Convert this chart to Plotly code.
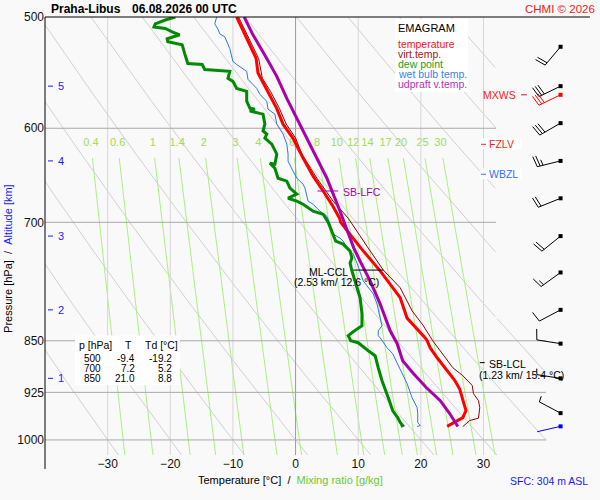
import numpy as np
import plotly.graph_objects as go

FONT = 'Liberation Sans, Arial, sans-serif'
BG = '#f9f9f9'

# figure geometry
W, H = 600, 500
ML, MR, MT, MB = 45, 10, 15, 45
X0, X1 = -40, 47
P_TOP, P_BOT = 500, 1025
SX = (W - ML - MR) / (X1 - X0)             # px per degC
SY = (H - MT - MB) / np.log(P_BOT / P_TOP)  # px per ln(p)

T_TICKS = [-30, -20, -10, 0, 10, 20, 30]
P_TICKS = [500, 600, 700, 850, 925, 1000]
ALT_KM = [1, 2, 3, 4, 5]
ALT_P = [904, 808, 716, 633, 560]

MIX_W = [0.4, 0.6, 1, 1.4, 2, 3, 4, 6, 8, 10, 12, 14, 17, 20, 25, 30]
THETA_C = [-30, -20, -10, 0, 10, 20, 30, 40, 50, 60, 70, 80, 90]

# sounding profiles
temp_p = [500, 518, 535, 548, 562, 581, 596, 610, 630, 649, 665, 680, 695, 700, 714, 730,
          758, 792, 819, 827, 846, 850, 860, 874, 893, 907, 920, 938, 953, 964, 969, 978]
temp_T = [-9.4, -7.8, -6.3, -6.0, -4.7, -3.0, -2.0, -0.4, 1.2, 2.8, 4.4, 5.8, 7.0, 7.2, 8.7, 10.4,
          13.5, 16.7, 17.8, 18.7, 20.7, 21.0, 21.5, 22.6, 24.2, 25.4, 26.2, 26.7, 27.2, 26.7, 25.8, 24.2]

tv_p = [500, 518.2, 535.2, 552.9, 564.8, 580.6, 595.9, 609.7, 626.0, 651.2, 676.2, 695.3, 721.9, 730.2,
        756.9, 779.3, 809.3, 828.1, 850.0, 868.2, 888.4, 900.1, 914.7, 927.0, 937.7, 948.4, 965.0, 968.7, 978.3]
tv_T = [-9.1, -7.4, -5.9, -5.3, -4.0, -2.6, -1.5, 0.0, 1.0, 3.4, 6.0, 8.4, 10.8, 11.6,
        14.0, 16.7, 18.6, 20.3, 21.9, 23.5, 25.1, 26.7, 28.2, 28.4, 29.2, 29.4, 29.2, 27.8, 26.7]

dew_p = [500, 502.5, 505.7, 508.2, 509.5, 512.4, 514.8, 518.2, 520.7, 523.3, 530.9, 539.6, 540.5, 544.9,
         546.6, 552.9, 555.6, 562.1, 564.8, 574.0, 580.6, 581.5, 583.4, 586.3, 595.9, 602.7, 605.7, 609.7,
         615.8, 626.0, 636.4, 635.3, 640.6, 651.2, 654.4, 661.9, 668.5, 672.9, 676.2, 679.6, 687.4, 690.8,
         700.0, 710.3, 721.9, 725.5, 733.8, 742.2, 748.3, 758.2, 770.6, 792.2, 813.3, 829.4, 837.5, 842.9,
         850.0, 852.7, 864.0, 871.1, 888.4, 907.5, 933.1, 953.0, 964.0, 971.9, 976.7, 978.3]
dew_T = [-19.2, -20.8, -22.4, -22.6, -20.8, -19.7, -18.5, -20.5, -20.4, -18.1, -17.7, -17.2, -14.9, -14.5,
         -10.5, -10.8, -10.0, -9.4, -7.8, -7.8, -7.3, -6.5, -7.3, -5.2, -4.9, -5.2, -4.6, -4.9,
         -3.8, -3.0, -3.3, -4.1, -3.3, -2.8, -1.4, -0.9, 0.2, -1.2, 0.2, 1.2, 2.8, 4.4,
         5.2, 5.8, 6.4, 7.6, 8.7, 9.0, 8.7, 9.0, 9.5, 10.3, 10.6, 10.6, 9.2, 8.4,
         8.8, 10.0, 11.6, 12.7, 13.2, 13.8, 14.8, 15.5, 16.3, 16.7, 17.1, 16.8]

wb_p = [500, 505.7, 509.9, 514.0, 516.5, 526.6, 537.8, 540.5, 546.6, 553.8, 562.1, 567.6, 574.0, 581.5,
        586.3, 595.9, 605.7, 615.8, 626.0, 633.2, 643.7, 651.2, 657.6, 661.9, 676.2, 679.6, 687.4, 693.1,
        702.2, 713.8, 718.4, 721.9, 730.2, 737.4, 748.3, 758.2, 770.6, 787.1, 800.2, 818.6, 829.4, 836.2,
        843.0, 845.8, 859.7, 868.2, 882.6, 895.7, 912.0, 933.1, 948.4, 957.7, 971.9, 976.7, 978.3]
wb_T = [-12.6, -12.9, -12.4, -12.1, -11.3, -10.5, -10.0, -9.4, -7.8, -7.6, -6.2, -5.7, -4.6, -4.4,
        -3.3, -3.0, -2.0, -1.4, -1.2, -1.2, -0.4, 0.2, 1.2, 1.5, 2.0, 2.8, 3.9, 5.0,
        5.5, 6.0, 7.1, 7.6, 8.2, 9.2, 9.8, 10.3, 10.8, 12.4, 13.0, 13.5, 13.8, 13.2,
        13.2, 13.5, 14.6, 15.5, 16.3, 17.0, 17.8, 18.6, 19.4, 19.5, 19.5, 19.9, 19.4]

up_p = [500, 514.8, 535.2, 551.1, 571.3, 590.1, 615.8, 651.2, 687.4, 713.8, 730.2, 745.9, 770.6,
        800.2, 836.2, 853.7, 878.3, 895.7, 918.0, 937.7, 957.7, 978.3]
up_T = [-8.2, -6.8, -4.6, -3.0, -1.4, 0.2, 2.3, 5.0, 7.1, 8.5, 9.3, 10.3, 11.9,
        13.5, 15.1, 16.2, 17.1, 18.7, 20.9, 23.1, 24.6, 25.9]

# winds every 0.5 km
wind_p = [525, 560, 595, 633, 673, 716, 760, 808, 854, 904, 957]
wind_dir = [220, 244, 240, 256, 248, 231, 234, 242, 279, 279, 298]
wind_kt = [20, 30, 30, 25, 20, 20, 15, 10, 10, 5, 5]
MXWS_P, MXWS_DIR, MXWS_KT = 568, 244, 30
SFC_P, SFC_DIR, SFC_KT = 978, 257, 2
BARB_T = 42.3

# levels
LFC_P, LFC_SEG = 665, (3.5, 6.8)
CCL_P, CCL_SEG, CCL_KM, CCL_TC = 757, (9.2, 14.0), 2.53, 12.6
LCL_P, LCL_SEG, LCL_KM, LCL_TC = 881, (29.4, 30.2), 1.23, 15.4
FZLV_P, WBZL_P = 616, 647

tab_p = [500, 700, 850]
tab_T = [-9.4, 7.2, 21.0]
tab_Td = [-19.2, 5.2, 8.8]

legend_names = ['temperature', 'virt.temp.', 'dew point', 'wet bulb temp.', 'udpraft v.temp.']
legend_colors = ['#ff1010', '#a01818', '#20a020', '#3a80f0', '#b030c0']


def mix_td(w, p):
    e = w * p / (622.0 + w)
    a = np.log(e / 6.112)
    return 243.5 * a / (17.67 - a)


def dry_T(theta_c, p):
    return (theta_c + 273.15) * (p / 1000.0) ** 0.2857 - 273.15


def pix(xp, yp):
    """figure pixel -> paper coords"""
    return (xp - ML) / (W - ML - MR), 1 - (yp - MT) / (H - MT - MB)


def to_paper(T, p):
    return (T - X0) / (X1 - X0), 1 - np.log(p / P_TOP) / np.log(P_BOT / P_TOP)


def shift_p(p, dy):
    return p * np.exp(dy / SY)


def line(x, y, color, width=1, dash=None):
    return go.Scatter(x=x, y=y, mode='lines', line=dict(color=color, width=width, dash=dash),
                      hoverinfo='skip')


fig = go.Figure()

# dry adiabats
pp = np.geomspace(P_TOP, P_BOT, 400)
t_clip = np.where(pp < 820, 32, 40)
ax_, ay_ = [], []
for th in THETA_C:
    t = dry_T(th, pp)
    for ti, pi, tc in zip(t, pp, t_clip):
        if ti <= tc:
            ax_.append(ti)
            ay_.append(pi)
        else:
            ax_.append(None)
            ay_.append(None)
    ax_.append(None)
    ay_.append(None)
fig.add_trace(line(ax_, ay_, '#d0d0d0', 1))

# mixing ratio lines
pm = np.geomspace(630, P_BOT, 60)
mx, my = [], []
for w in MIX_W:
    mx += list(mix_td(w, pm)) + [None]
    my += list(pm) + [None]
fig.add_trace(line(mx, my, '#aaf080', 1))
fig.add_trace(go.Scatter(x=[mix_td(w, 615) for w in MIX_W], y=[615] * len(MIX_W), mode='text',
                         text=[f'{w:g}' for w in MIX_W], textposition='middle center',
                         textfont=dict(size=11, color='#9edc5a', family=FONT), hoverinfo='skip'))

# temperature gridlines
for t in T_TICKS:
    fig.add_trace(line([t, t], [P_TOP, P_BOT], '#9a9a9a' if t == 0 else '#d6d6d6', 1))
for p in P_TICKS[1:]:
    fig.add_trace(line([X0, 32 if p < 820 else 40], [p, p], '#a8a8a8', 1))

# profiles
fig.add_trace(line(tv_T, tv_p, '#990000', 1))
fig.add_trace(line(wb_T, wb_p, '#2a78f0', 1))
fig.add_trace(line(dew_T, dew_p, '#008a00', 3))
fig.add_trace(line(temp_T, temp_p, '#ff0000', 3))
fig.add_trace(line(up_T, up_p, '#aa00aa', 3))

# level markers
fig.add_trace(line(list(LFC_SEG), [LFC_P, LFC_P], '#aa00aa', 1))
fig.add_trace(line(list(CCL_SEG), [CCL_P, CCL_P], '#000000', 1))
fig.add_trace(line(list(LCL_SEG), [LCL_P, LCL_P], '#000000', 1))
fig.add_trace(line([36.0, 36.9], [MXWS_P, MXWS_P], '#ff0000', 1))

# altitude ticks
ak_x, ak_y = [], []
for p in ALT_P:
    ak_x += [X0 + 3 / SX, X0 + 8 / SX, None]
    ak_y += [p, p, None]
fig.add_trace(line(ak_x, ak_y, '#1a1aff', 1))

# wind barbs
STAFF = 24


def barb(p, d, kt):
    ang = np.radians(d)
    ux, uy = np.sin(ang), -np.cos(ang)
    rot = np.radians(80)
    bx = ux * np.cos(rot) - uy * np.sin(rot)
    by = ux * np.sin(rot) + uy * np.cos(rot)
    segs = [((0, 0), (STAFF * ux, STAFF * uy))]
    s = STAFF
    for _ in range(int(kt // 10)):
        segs.append(((s * ux, s * uy), (s * ux + 11 * bx, s * uy + 11 * by)))
        s -= 3
    if kt % 10 >= 5:
        segs.append(((s * ux, s * uy), (s * ux + 6 * bx, s * uy + 6 * by)))
    xs, ys = [], []
    for (a1, b1), (a2, b2) in segs:
        xs += [BARB_T + a1 / SX, BARB_T + a2 / SX, None]
        ys += [shift_p(p, b1), shift_p(p, b2), None]
    return xs, ys


bxs, bys = [], []
for p, d, k in zip(wind_p, wind_dir, wind_kt):
    a, b = barb(p, d, k)
    bxs += a
    bys += b
fig.add_trace(line(bxs, bys, '#000000', 1))
fig.add_trace(go.Scatter(x=[BARB_T] * len(wind_p), y=wind_p, mode='markers',
                         marker=dict(symbol='square', size=4, color='#000000'), hoverinfo='skip'))
a, b = barb(MXWS_P, MXWS_DIR, MXWS_KT)
fig.add_trace(line(a, b, '#ff0000', 1))
a, b = barb(SFC_P, SFC_DIR, SFC_KT)
fig.add_trace(line(a, b, '#0000ff', 1))
fig.add_trace(go.Scatter(x=[BARB_T, BARB_T], y=[MXWS_P, SFC_P], mode='markers',
                         marker=dict(symbol='square', size=4, color=['#ff0000', '#0000ff']),
                         hoverinfo='skip'))

shapes = []
annotations = []


def note(x, y, text, size=10.5, color='#000000', xanchor='left', xref='paper', yref='paper',
         bold=False, angle=0):
    annotations.append(dict(x=x, y=y, xref=xref, yref=yref, text=f'<b>{text}</b>' if bold else text,
                            showarrow=False, xanchor=xanchor, yanchor='middle', textangle=angle,
                            font=dict(family=FONT, size=size, color=color)))


# frame lines
shapes.append(dict(type='line', xref='paper', yref='paper', x0=0, x1=1, y0=1, y1=1,
                   line=dict(color='#000000', width=1)))
shapes.append(dict(type='line', xref='paper', yref='paper', x0=0, x1=0, y0=pix(0, 469)[1], y1=1,
                   line=dict(color='#000000', width=1)))

# white boxes
for (x0p, y0p), (x1p, y1p) in [((395, 17), (468, 90)), ((75, 335), (180, 385))]:
    a0, b0 = pix(x0p, y0p)
    a1, b1 = pix(x1p, y1p)
    shapes.append(dict(type='rect', xref='paper', yref='paper', x0=a0, x1=a1, y0=b1, y1=b0,
                       fillcolor='#ffffff', line=dict(width=0), layer='above'))

for lvl, name, col in [(FZLV_P, 'FZLV', '#ff2020'), (WBZL_P, 'WBZL', '#3070f0')]:
    xa, ya = to_paper(29.4, shift_p(lvl, -6))
    xb, yb = to_paper(36.1, shift_p(lvl, 5))
    shapes.append(dict(type='rect', xref='paper', yref='paper', x0=xa, x1=xb, y0=yb, y1=ya,
                       fillcolor='#ffffff', line=dict(width=0), layer='above'))
    xa, ya = to_paper(29.6, lvl)
    xb, _ = to_paper(30.4, lvl)
    shapes.append(dict(type='line', xref='paper', yref='paper', x0=xa, x1=xb, y0=ya, y1=ya,
                       line=dict(color=col, width=1), layer='above'))
    note(30.5, np.log10(lvl), name, color=col, xref='x', yref='y')

# title
note(*pix(49, 7), 'Praha-Libus', size=12, bold=True)
note(*pix(130, 7), '06.08.2026 00 UTC', size=12, bold=True)
note(*pix(597, 7), 'CHMI © 2026', size=11.5, color='#ee2020', xanchor='right')

# legend
note(*pix(396, 26), 'EMAGRAM', size=11)
for i, (n, c) in enumerate(zip(legend_names, legend_colors)):
    note(*pix(396, 42 + 10 * i), n, color=c)

# table
note(*pix(77, 344), 'p [hPa]', size=10.5)
note(*pix(128, 344), 'T', size=10.5, xanchor='center')
note(*pix(143, 344), 'Td [°C]', size=10.5)
for i, (p, t, td) in enumerate(zip(tab_p, tab_T, tab_Td)):
    y = 358 + 10 * i
    note(*pix(103, y), f'{p}', size=10, xanchor='right')
    note(*pix(137, y), f'{t:.1f}', size=10, xanchor='right')
    note(*pix(174, y), f'{td:.1f}', size=10, xanchor='right')

# altitude labels
for km, p in zip(ALT_KM, ALT_P):
    note(X0 + 11 / SX, np.log10(p), str(km), size=11, color='#1a1aff', xref='x', yref='y')

# level labels
note(7.2, np.log10(shift_p(LFC_P, 1)), 'SB-LFC', color='#aa00aa', xref='x', yref='y')
note(1.9, np.log10(shift_p(CCL_P, 1.5)), 'ML-CCL', xref='x', yref='y')
note(-0.5, np.log10(shift_p(CCL_P, 12)), f'({CCL_KM:.2f} km/ {CCL_TC:.1f} °C)', xref='x', yref='y')
note(30.5, np.log10(shift_p(LCL_P, 1)), 'SB-LCL', xref='x', yref='y')
note(28.9, np.log10(shift_p(LCL_P, 12)), f'({LCL_KM:.2f} km/ {LCL_TC:.1f} °C)', xref='x', yref='y')
note(35.5, np.log10(MXWS_P), 'MXWS', color='#ff2020', xanchor='right', xref='x', yref='y')

# axis titles
note(*pix(290, 480), 'Temperature [°C]\u00a0\u00a0/\u00a0\u00a0'
     '<span style="color:#66cc33">Mixing ratio [g/kg]</span>', size=11, xanchor='center')
note(*pix(8, 258), 'Pressure [hPa]\u00a0\u00a0/\u00a0\u00a0'
     '<span style="color:#1a1aff">Altitude [km]</span>', size=11, xanchor='center', angle=-90)
note(*pix(590, 481), 'SFC: 304 m ASL', color='#1a1aff', xanchor='right')

fig.update_layout(
    width=W, height=H, margin=dict(l=ML, r=MR, t=MT, b=MB),
    paper_bgcolor=BG, plot_bgcolor=BG, showlegend=False, hovermode=False,
    xaxis=dict(range=[X0, X1], tickvals=T_TICKS, showgrid=False, zeroline=False, showline=False,
               ticks='', tickfont=dict(family=FONT, size=12, color='#111111'), fixedrange=True),
    yaxis=dict(type='log', range=[np.log10(P_BOT), np.log10(P_TOP)], tickvals=P_TICKS,
               ticktext=[str(v) for v in P_TICKS], showgrid=False, zeroline=False, showline=False,
               ticks='', tickfont=dict(family=FONT, size=12, color='#111111'), fixedrange=True),
    shapes=shapes, annotations=annotations,
)

# page has a default 8px body margin; drop it so the chart sits at the window origin
fig.write_html('out.html', config={'displayModeBar': False},
               post_script="document.body.style.margin = '0';")
